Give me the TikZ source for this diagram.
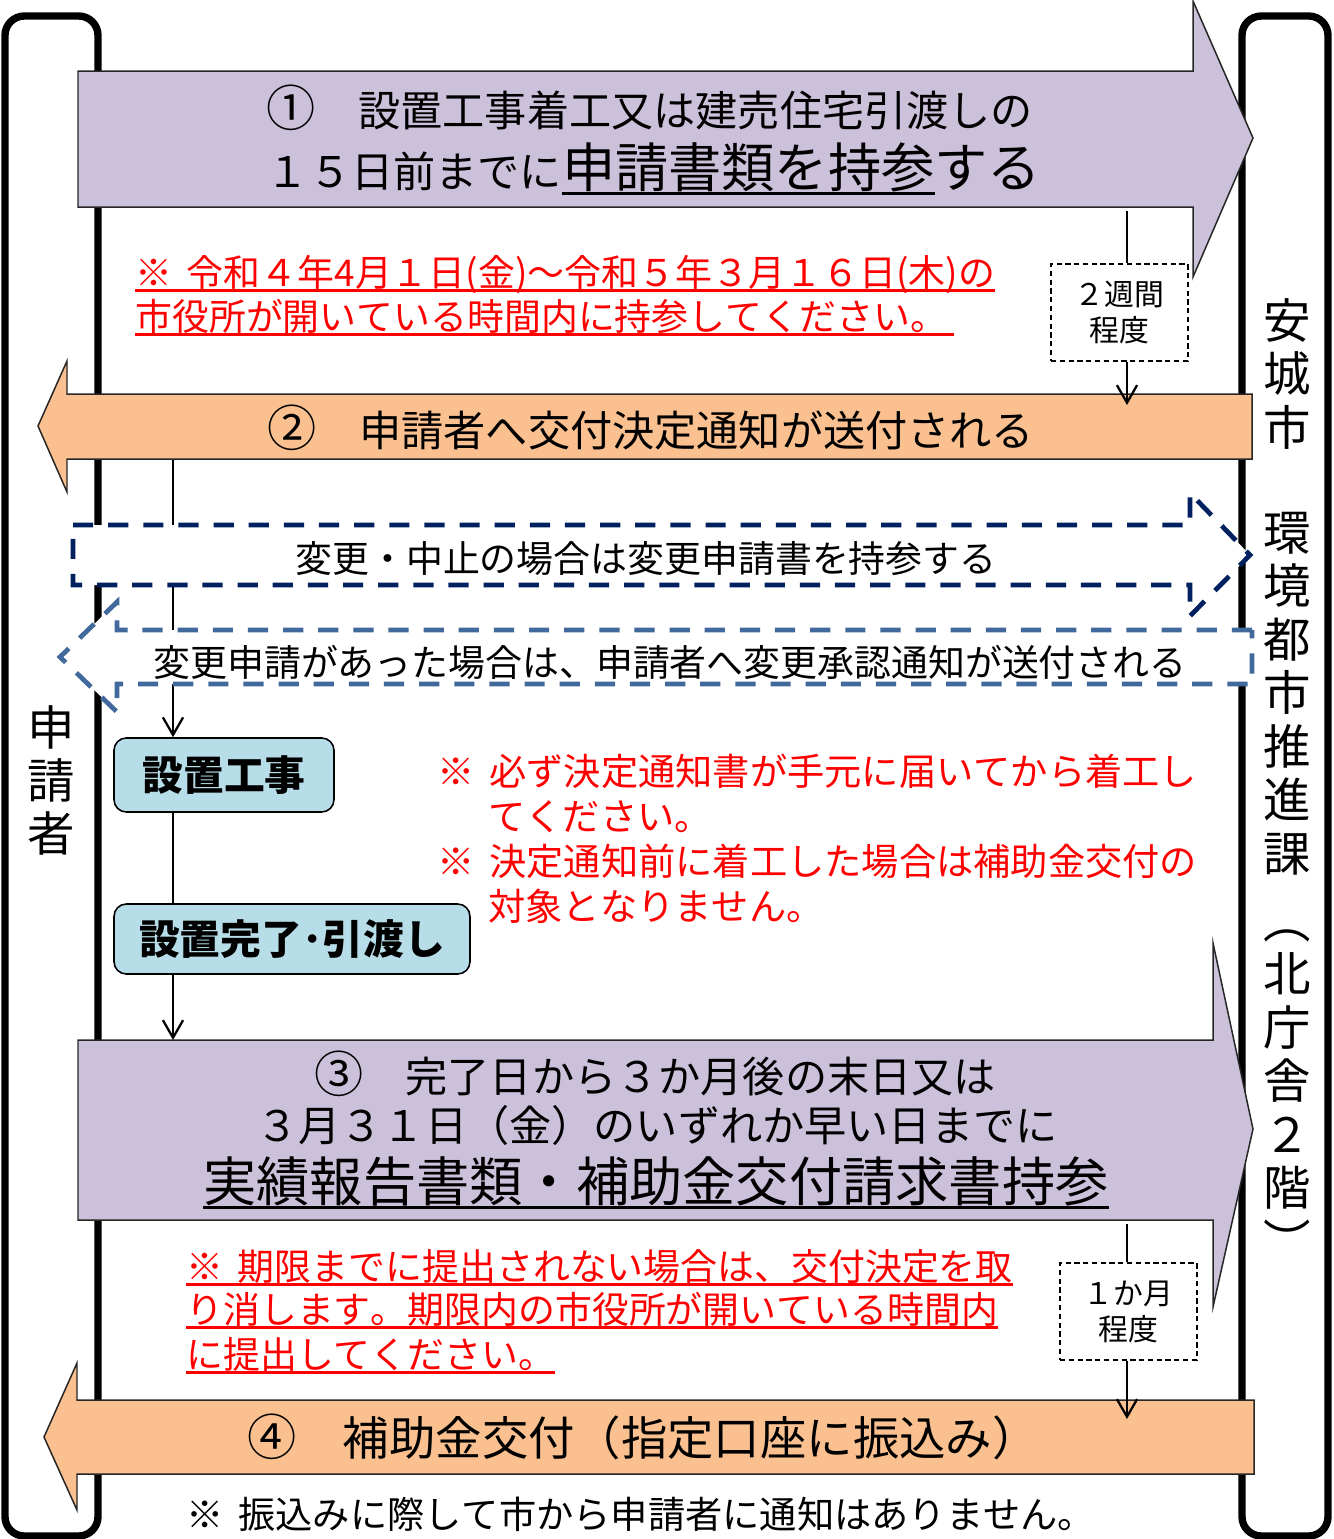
\documentclass[tikz,border=0pt]{standalone}
\usepackage{fontspec}
\setmainfont{Noto Sans CJK JP}[Kerning=Off]
\usetikzlibrary{arrows.meta,backgrounds}
\pgfdeclarelayer{back}
\pgfsetlayers{background,back,main}

\definecolor{stepviolet}{HTML}{CCC1DA}
\definecolor{steporange}{HTML}{FAC090}
\definecolor{workblue}{HTML}{B7DEE8}
\definecolor{changenavy}{HTML}{002060}
\definecolor{replysteel}{HTML}{41699B}

\newcommand\ptsize[2]{\fontsize{#1}{#2}\selectfont}
\newcommand\ulbar[1]{\setbox0\hbox{#1}\rlap{\rule[-0.15em]{\wd0}{0.06em}}\box0}
\newcommand\kome{※\hspace{0.4em}}
\newcommand\stepno[1]{{\fontsize{28}{30}\selectfont #1}}

\begin{document}
\begin{tikzpicture}[
  x=0.02cm, y=-0.02cm,
  lane/.style={line width=4.2pt, rounded corners=11pt},
  flowshape/.style={draw=black!85, line width=0.85pt},
  dashflow/.style={fill=white, line width=2.7pt, dash pattern=on 11.5pt off 8.5pt},
  stepbox/.style={draw, fill=workblue, rounded corners=7pt, line width=0.9pt,
    inner sep=0pt, font=\ptsize{23.2}{28}\bfseries},
  gapbox/.style={draw, fill=white, line width=0.75pt, dash pattern=on 3pt off 2pt,
    minimum width=2.74cm, minimum height=1.94cm, align=center, inner sep=0pt,
    font=\ptsize{17}{20.4}},
  headline/.style={anchor=base, inner sep=0pt, font=\ptsize{24}{30}},
  changeline/.style={anchor=base, inner sep=0pt, font=\ptsize{21}{25}},
  noteline/.style={anchor=base west, inner sep=0pt, text=red, font=\ptsize{21}{25}},
  vchar/.style={anchor=base, inner sep=0pt, font=\ptsize{27}{30}},
  link/.style={line width=1.3pt},
  >={Straight Barb[length=10pt,width=11.5pt]},
  ]

  \useasboundingbox (0,0) rectangle (1334,1539);

  % lanes
  \begin{scope}[on background layer]
    \draw[lane] (5,16) rectangle (98,1536);
    \draw[lane] (1242,16) rectangle (1328,1536);
  \end{scope}

  \foreach \ch [count=\i] in {申,請,者}
    \node[vchar] (applicant\i) at (51,{727+53*(\i-1)+18}) {\ch};
  \foreach \ch [count=\i] in {安,城,市}
    \node[vchar] (city\i) at (1287,{320+53.5*(\i-1)+18}) {\ch};
  \foreach \ch [count=\i] in {環,境,都,市,推,進,課}
    \node[vchar] (dept\i) at (1287,{532+53.5*(\i-1)+18}) {\ch};
  \foreach \ch [count=\i] in {︵,北,庁,舎,２,階,︶}
    \node[vchar] (floor\i) at (1287,{920+53.5*(\i-1)+18}) {\ch};

  % step 1
  \draw[flowshape, fill=stepviolet] (78,71) -- (1193,71) -- (1193,1) -- (1253,138)
    -- (1193,277) -- (1193,207) -- (78,207) -- cycle;
  \node[headline] (s1a) at (650,126) {\stepno{①}　設置工事着工又は建売住宅引渡しの};
  \node[headline] (s1b) at (654,187) {１５日前までに{\ptsize{30.3}{36}\ulbar{申請書類を持参}する}};

  \node[noteline] (n1a) at (135,286) {\ulbar{\kome 令和４年4月１日(金)～令和５年３月１６日(木)の}};
  \node[noteline] (n1b) at (135,330) {\ulbar{市役所が開いている時間内に持参してください。\hspace{0.2em}}};

  \node[gapbox] (w2) at (1119.5,312.5) {２週間\\程度};

  % step 2
  \draw[flowshape, fill=steporange] (1252,394) -- (67,394) -- (67,361) -- (38,426)
    -- (67,492) -- (67,459) -- (1252,459) -- cycle;
  \node[headline] (s2a) at (651,446) {\stepno{②}　申請者へ交付決定通知が送付される};

  % change request
  \draw[dashflow, draw=changenavy] (73,525) -- (1190,525) -- (1190,493) -- (1250,555)
    -- (1190,616) -- (1190,585) -- (73,585) -- cycle;
  \node[changeline] (c1) at (646,572) {変更・中止の場合は変更申請書を持参する};
  \draw[dashflow, draw=replysteel] (1252,630) -- (117,630) -- (117,602) -- (60,657)
    -- (117,712) -- (117,684) -- (1252,684) -- cycle;
  \node[changeline] (c2) at (670,676) {変更申請があった場合は、申請者へ変更承認通知が送付される};

  % work
  \node[stepbox, minimum width=4.4cm, minimum height=1.48cm] (build) at (224,775) {設置工事};
  \node[stepbox, minimum width=7.12cm, minimum height=1.4cm] (finish) at (292,939) {設置完了･引渡し};

  \begin{scope}[noteline/.append style={font=\ptsize{21.2}{25}}]
    \node[noteline] (n2a) at (437,785) {\kome 必ず決定通知書が手元に届いてから着工し};
    \node[noteline] (n2b) at (488,830) {てください。};
    \node[noteline] (n2c) at (437,875) {\kome 決定通知前に着工した場合は補助金交付の};
    \node[noteline] (n2d) at (488,920) {対象となりません。};
  \end{scope}

  % step 3
  \draw[flowshape, fill=stepviolet] (78,1040) -- (1213,1040) -- (1213,943) -- (1253,1129)
    -- (1213,1307) -- (1213,1220) -- (78,1220) -- cycle;
  \node[headline] (s3a) at (655,1092) {\stepno{③}　完了日から３か月後の末日又は};
  \node[headline] (s3b) at (657,1141) {３月３１日（金）のいずれか早い日までに};
  \node[headline, font=\ptsize{30.3}{36}] (s3c) at (656,1201) {\ulbar{実績報告書類・補助金交付請求書持参}};

  \node[noteline] (n3a) at (186,1280) {\ulbar{\kome 期限までに提出されない場合は、交付決定を取}};
  \node[noteline] (n3b) at (186,1323) {\ulbar{り消します。期限内の市役所が開いている時間内}};
  \node[noteline] (n3c) at (186,1368) {\ulbar{に提出してください。}};

  \node[gapbox] (m1) at (1128.5,1311.5) {１か月\\程度};

  % step 4
  \draw[flowshape, fill=steporange] (1254,1400) -- (77,1400) -- (77,1363) -- (44,1437)
    -- (77,1510) -- (77,1474) -- (1254,1474) -- cycle;
  \node[headline, font=\ptsize{26.4}{32}] (s4a) at (643,1455) {\stepno{④}　補助金交付（指定口座に振込み）};

  \node[noteline, text=black, font=\ptsize{21.2}{25}] (foot) at (186,1528)
    {\kome 振込みに際して市から申請者に通知はありません。};

  % connectors
  \coordinate (s1foot) at (1127,211);
  \coordinate (s2mark) at (1127,405);
  \coordinate (s2foot) at (173,459);
  \coordinate (s3mark) at (173,1040);
  \coordinate (s3foot) at (1127,1224);
  \coordinate (s4mark) at (1127,1419);

  \begin{pgfonlayer}{back}
    \draw[link,->] (s2foot) -- (s2foot |- build.north);
  \end{pgfonlayer}
  \draw[link] (s1foot) -- (s1foot |- w2.north);
  \draw[link,->] (w2.south -| s1foot) -- (s2mark);
  \draw[link] (build.south -| s2foot) -- (s2foot |- finish.north);
  \draw[link,->] (finish.south -| s2foot) -- (s3mark);
  \draw[link] (s3foot) -- (s3foot |- m1.north);
  \draw[link,->] (m1.south -| s3foot) -- (s4mark);

\end{tikzpicture}
\end{document}
